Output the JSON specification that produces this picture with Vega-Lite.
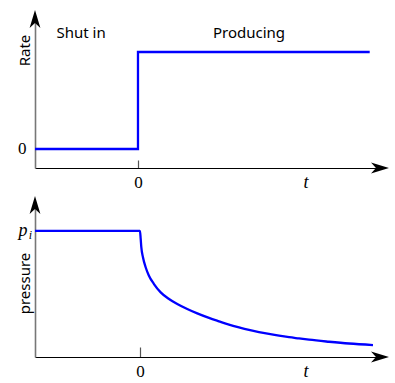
{
  "$schema": "https://vega.github.io/schema/vega-lite/v6.json",
  "padding": {"left": 17, "top": 10, "right": 4, "bottom": 4},
  "spacing": 37,
  "bounds": "flush",
  "config": {
    "view": {"stroke": null},
    "font": "Noto Sans",
    "axis": {"grid": false}
  },
  "datasets": {
    "rate": [
      {"i": 0, "t": -1, "rate": 0},
      {"i": 1, "t": 0, "rate": 0},
      {"i": 2, "t": 0, "rate": 1},
      {"i": 3, "t": 2.25, "rate": 1}
    ],
    "pressure": [
      {"t": -1.019, "p": 1},
      {"t": 0, "p": 1},
      {"t": 0.007, "p": 0.937},
      {"t": 0.013, "p": 0.871},
      {"t": 0.029, "p": 0.791},
      {"t": 0.055, "p": 0.712},
      {"t": 0.087, "p": 0.645},
      {"t": 0.136, "p": 0.579},
      {"t": 0.201, "p": 0.513},
      {"t": 0.282, "p": 0.46},
      {"t": 0.362, "p": 0.421},
      {"t": 0.459, "p": 0.381},
      {"t": 0.556, "p": 0.346},
      {"t": 0.67, "p": 0.31},
      {"t": 0.767, "p": 0.283},
      {"t": 0.864, "p": 0.257},
      {"t": 0.961, "p": 0.235},
      {"t": 1.058, "p": 0.215},
      {"t": 1.155, "p": 0.198},
      {"t": 1.252, "p": 0.183},
      {"t": 1.35, "p": 0.169},
      {"t": 1.447, "p": 0.157},
      {"t": 1.544, "p": 0.147},
      {"t": 1.641, "p": 0.137},
      {"t": 1.835, "p": 0.121},
      {"t": 2.029, "p": 0.107},
      {"t": 2.262, "p": 0.095}
    ]
  },
  "vconcat": [
    {
      "width": 345,
      "height": 149,
      "layer": [
        {
          "data": {"name": "rate"},
          "mark": {"type": "line", "color": "#0000ff", "strokeWidth": 2.3, "strokeJoin": "miter"},
          "encoding": {
            "x": {
              "field": "t", "type": "quantitative",
              "scale": {"domain": [-1, 2.35], "nice": false, "zero": false},
              "axis": {
                "title": null, "values": [0], "labelExpr": "'0'",
                "labelFont": "Liberation Serif", "labelFontSize": 17, "labelColor": "black",
                "domainColor": "black", "domainWidth": 1.2,
                "tickColor": "#555", "tickWidth": 1.2, "tickSize": -8, "labelPadding": 14
              }
            },
            "y": {
              "field": "rate", "type": "quantitative",
              "scale": {"domain": [-0.196, 1.34], "nice": false, "zero": false},
              "axis": {
                "title": "Rate", "values": [0], "labelExpr": "'0'", "ticks": false,
                "labelFont": "Liberation Serif", "labelFontSize": 17, "labelColor": "black",
                "labelPadding": 9,
                "domainColor": "#777", "domainWidth": 1.6,
                "titleFont": "Noto Sans", "titleFontSize": 15, "titleFontWeight": "normal",
                "titleColor": "black", "titleX": -3, "titleY": 31
              }
            },
            "order": {"field": "i"}
          }
        },
        {
          "data": {"values": [{}]},
          "mark": {"type": "point", "shape": "M1,0L-1,-0.6L-0.45,0L-1,0.6Z", "filled": true, "color": "black", "size": 324, "opacity": 1, "strokeWidth": 0},
          "encoding": {"x": {"datum": 2.35}, "y": {"datum": -0.196}}
        },
        {
          "data": {"values": [{}]},
          "mark": {"type": "point", "shape": "M0,-1L-0.6,1L0,0.45L0.6,1Z", "filled": true, "color": "black", "size": 324, "opacity": 1, "strokeWidth": 0},
          "encoding": {"x": {"datum": -1}, "y": {"datum": 1.34}}
        },
        {
          "data": {"values": [{}]},
          "mark": {"type": "text", "font": "Noto Sans", "fontSize": 15, "align": "center", "baseline": "middle"},
          "encoding": {"x": {"datum": -0.553}, "y": {"datum": 1.196}, "text": {"value": "Shut in"}}
        },
        {
          "data": {"values": [{}]},
          "mark": {"type": "text", "font": "Noto Sans", "fontSize": 15, "align": "center", "baseline": "middle"},
          "encoding": {"x": {"datum": 1.078}, "y": {"datum": 1.196}, "text": {"value": "Producing"}}
        },
        {
          "data": {"values": [{}]},
          "mark": {"type": "text", "font": "Liberation Serif", "fontStyle": "italic", "fontSize": 18, "align": "center", "baseline": "middle", "dy": 15},
          "encoding": {"x": {"datum": 1.631}, "y": {"datum": -0.196}, "text": {"value": "t"}}
        }
      ]
    },
    {
      "width": 345,
      "height": 152,
      "layer": [
        {
          "data": {"name": "pressure"},
          "mark": {"type": "line", "color": "#0000ff", "strokeWidth": 2.3, "interpolate": "monotone"},
          "encoding": {
            "x": {
              "field": "t", "type": "quantitative",
              "scale": {"domain": [-1.019, 2.33], "nice": false, "zero": false},
              "axis": {
                "title": null, "values": [0], "labelExpr": "'0'",
                "labelFont": "Liberation Serif", "labelFontSize": 17, "labelColor": "black",
                "domainColor": "black", "domainWidth": 1.2,
                "tickColor": "#555", "tickWidth": 1.2, "tickSize": -10, "labelPadding": 16
              }
            },
            "y": {
              "field": "p", "type": "quantitative",
              "scale": {"domain": [0, 1.206], "nice": false, "zero": false},
              "axis": {
                "title": "pressure", "values": [1], "labelExpr": "'p'", "ticks": false,
                "labelFont": "Liberation Serif", "labelFontStyle": "italic", "labelFontSize": 18,
                "labelColor": "black", "labelPadding": 8,
                "domainColor": "#777", "domainWidth": 1.6,
                "titleFont": "Noto Sans", "titleFontSize": 15, "titleFontWeight": "normal",
                "titleColor": "black", "titleX": -3, "titleY": 78
              }
            }
          }
        },
        {
          "data": {"values": [{}]},
          "mark": {"type": "text", "font": "Liberation Serif", "fontStyle": "italic", "fontSize": 12, "align": "right", "baseline": "middle", "dx": -3, "dy": 4},
          "encoding": {"x": {"datum": -1.019}, "y": {"datum": 1}, "text": {"value": "i"}}
        },
        {
          "data": {"values": [{}]},
          "mark": {"type": "point", "shape": "M1,0L-1,-0.6L-0.45,0L-1,0.6Z", "filled": true, "color": "black", "size": 324, "opacity": 1, "strokeWidth": 0},
          "encoding": {"x": {"datum": 2.33}, "y": {"datum": 0}}
        },
        {
          "data": {"values": [{}]},
          "mark": {"type": "point", "shape": "M0,-1L-0.6,1L0,0.45L0.6,1Z", "filled": true, "color": "black", "size": 324, "opacity": 1, "strokeWidth": 0},
          "encoding": {"x": {"datum": -1.019}, "y": {"datum": 1.206}}
        },
        {
          "data": {"values": [{}]},
          "mark": {"type": "text", "font": "Liberation Serif", "fontStyle": "italic", "fontSize": 18, "align": "center", "baseline": "middle", "dy": 15},
          "encoding": {"x": {"datum": 1.611}, "y": {"datum": 0}, "text": {"value": "t"}}
        }
      ]
    }
  ]
}
